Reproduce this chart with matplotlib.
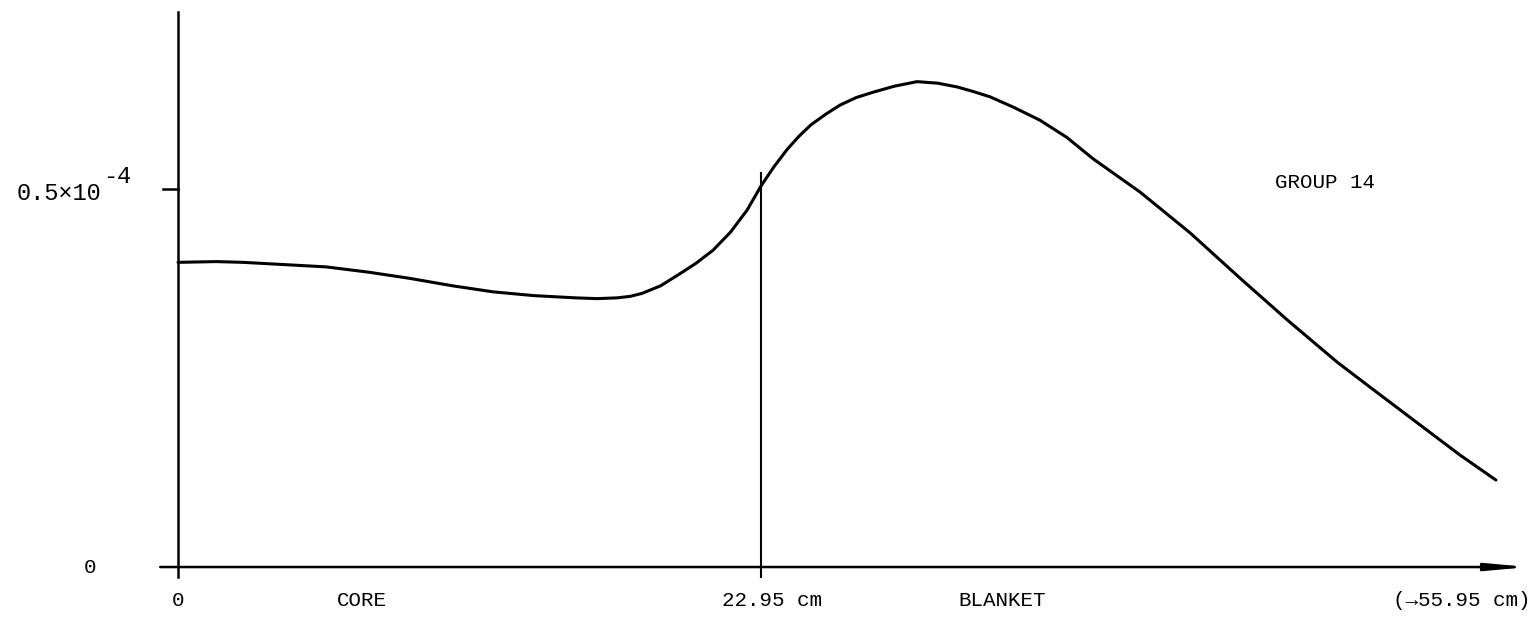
import matplotlib
matplotlib.use("Agg")
import matplotlib.pyplot as plt

# flux profile, group 14 (x in cm, flux in units of 1e-4)
radius_cm = [0.0, 1.5, 2.56, 4.2, 5.83, 7.5, 9.09, 10.8, 12.40, 14.0, 15.67,
             16.5, 17.28, 17.8, 18.27, 19.0, 19.76, 20.4, 21.06, 21.75, 22.40,
             22.95, 23.45, 23.97, 24.45, 24.92, 25.5, 26.06, 26.7, 27.36, 28.2,
             29.09, 29.9, 30.67, 31.3, 31.96, 32.9, 33.93, 35.0, 36.02, 37.87,
             39.84, 41.81, 43.66, 45.63, 46.92, 48.89, 50.47, 51.88]
flux = [0.403, 0.404, 0.403, 0.400, 0.397, 0.390, 0.382, 0.372, 0.364, 0.359,
        0.356, 0.355, 0.356, 0.358, 0.362, 0.372, 0.388, 0.402, 0.419, 0.443,
        0.472, 0.504, 0.529, 0.552, 0.570, 0.585, 0.599, 0.611, 0.621, 0.628,
        0.636, 0.642, 0.640, 0.635, 0.629, 0.622, 0.608, 0.591, 0.568, 0.540,
        0.496, 0.442, 0.382, 0.327, 0.271, 0.238, 0.188, 0.148, 0.115]

core_edge = 22.95
ytick_val = 0.5
ytick_label = "0.5×10"
ytick_exp = "-4"
zone_labels = ["CORE", "BLANKET"]
zone_centers = [7.24, 32.44]
group_label = "GROUP 14"

FONT = ["Liberation Mono", "DejaVu Sans Mono"]

fig = plt.figure(figsize=(15.31, 6.26), dpi=100)
ax = fig.add_axes([0, 0, 1, 1])
ax.set_xlim(-7.007, 53.26)
ax.set_ylim(-0.078, 0.75)
ax.axis("off")

# axes drawn by hand, like the original sketch
ax.plot([0, 0], [-0.013, 0.734], color="black", lw=1.8)
ax.annotate("", xy=(53.15, 0), xytext=(-0.7, 0), annotation_clip=False,
            arrowprops=dict(arrowstyle="-|>,head_length=2.4,head_width=0.22",
                            lw=1.8, color="black", shrinkA=0, shrinkB=0))
ax.plot([-0.59, 0], [ytick_val, ytick_val], color="black", lw=1.8)
ax.plot([core_edge, core_edge], [-0.013, 0.521], color="black", lw=1.5)

ax.plot(radius_cm, flux, color="black", lw=2.2,
        solid_joinstyle="round", solid_capstyle="round")

kw = dict(family=FONT, fontsize=15, color="black")
ax.text(-3.0, 0.494, ytick_label, ha="right", va="center",
        family=FONT, fontsize=17, color="black")
ax.text(-2.95, 0.517, ytick_exp, ha="left", va="center",
        family=FONT, fontsize=17, color="black")
ax.text(-3.46, 0.0, "0", ha="center", va="center", **kw)
ax.text(0.0, -0.044, "0", ha="center", va="center", **kw)
ax.text(core_edge + 0.43, -0.044, "22.95 cm", ha="center", va="center", **kw)
for name, xc in zip(zone_labels, zone_centers):
    ax.text(xc, -0.044, name, ha="center", va="center", **kw)
ax.text(50.55, -0.044, "(→55.95 cm)", ha="center", va="center", **kw)
ax.text(45.15, 0.509, group_label, ha="center", va="center", **kw)

fig.savefig("out.png", dpi=100)
